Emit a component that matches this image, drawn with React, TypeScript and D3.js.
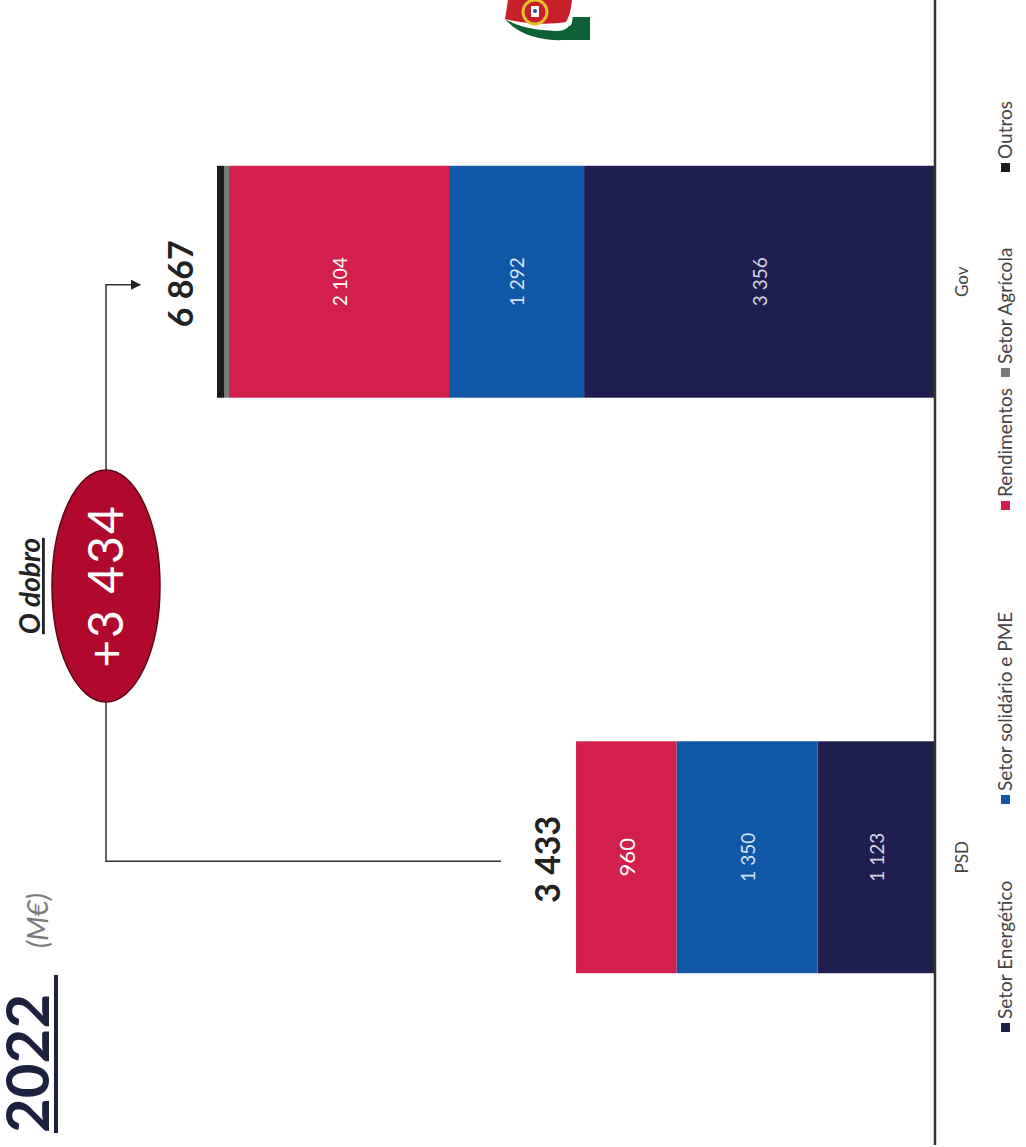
import React from "react";
import * as d3 from "d3";

// ---------- data ----------
const categories = ["PSD", "Gov"];
const seriesNames = ["Setor Energético", "Setor solidário e PME", "Rendimentos", "Setor Agrícola", "Outros"];
const setorEnergetico = [1123, 3356];
const setorSolidario = [1350, 1292];
const rendimentos = [960, 2104];
const setorAgricola = [0, 45];
const outros = [0, 70];
const totals = [3433, 6867];
const totalLabels = ["3 433", "6 867"];
const segmentLabels = [
  ["1 123", "3 356"],
  ["1 350", "1 292"],
  ["960", "2 104"],
];
const differenceLabel = "+3 434";
const differenceTitle = "O dobro";
const yearLabel = "2022";
const unitLabel = "(M€)";

// ---------- styles ----------
const seriesColors = ["#1e1f4f", "#1157a8", "#d31f4b", "#7a7a7a", "#1a1a1a"];
const segmentTextColors = ["#d4d4e2", "#d3e2f4", "#ffffff"];
const FONT = "Lato, 'Open Sans', sans-serif";

// original (unrotated) frame: u across (0..1147), v down (0..1026)
const W = 1147;
const BASE_V = 935;

export default function App() {
  const rows = categories.map((c, i) => ({
    cat: c,
    [seriesNames[0]]: setorEnergetico[i],
    [seriesNames[1]]: setorSolidario[i],
    [seriesNames[2]]: rendimentos[i],
    [seriesNames[3]]: setorAgricola[i],
    [seriesNames[4]]: outros[i],
  }));
  const stacked = d3.stack<any>().keys(seriesNames)(rows);

  const u = d3
    .scaleBand<string>()
    .domain(categories)
    .range([2, 1153])
    .paddingInner(0.597)
    .paddingOuter(0.2985);
  const v = d3.scaleLinear().domain([0, 6867]).range([BASE_V, 217]);
  const bw = u.bandwidth();
  const cx = (c: string) => (u(c) as number) + bw / 2;

  const labelGap = [16, 24];
  const legendU = [115, 343, 637, 770, 975];

  const psdTop = v(totals[0]) - 75;
  const govTop = v(totals[1]) - 77;
  const ell = { cu: 561, cv: 106, rx: 116, ry: 54 };

  const connector1 = d3.path();
  connector1.moveTo(cx(categories[0]) - 4, psdTop);
  connector1.lineTo(cx(categories[0]) - 4, ell.cv);
  connector1.lineTo(ell.cu - ell.rx, ell.cv);
  const connector2 = d3.path();
  connector2.moveTo(ell.cu + ell.rx, ell.cv);
  connector2.lineTo(cx(categories[1]) - 3, ell.cv);
  connector2.lineTo(cx(categories[1]) - 3, govTop);

  return (
    <svg
      width={1026}
      height={1147}
      style={{ position: "absolute", left: 0, top: 0, background: "#fff" }}
    >
      <defs>
        <marker id="arr" viewBox="0 0 10 10" refX="9" refY="5" markerWidth="7" markerHeight="7" orient="auto">
          <path d="M0,0 L10,5 L0,10 Z" fill="#222" />
        </marker>
      </defs>

      {/* logo (flag swoosh) */}
      <g>
        <path d="M508,0 L572,0 C571,10 569,17 566,22 C548,25 525,24 505,19 Z" fill="#c8202b" />
        <path d="M505,19 C520,37 545,41 565,40 L590,40 L590,17 L572,17 C571,27 566,31 556,31 C535,30 518,27 505,19 Z" fill="#0d6136" />
        <path d="M566,22 C569,26 571,28 572,17" stroke="#fff" strokeWidth={1.5} fill="none" />
        <circle cx={535} cy={12} r={12} fill="none" stroke="#e3c12a" strokeWidth={3} />
        <rect x={530} y={5} width={10} height={13} fill="#fff" stroke="#c8202b" strokeWidth={2} />
        <circle cx={535} cy={11} r={2} fill="#1d4fa0" />
      </g>

      <g transform={`translate(0,${W}) rotate(-90)`}>
        {/* bars */}
        {stacked.map((s, si) => (
          <g key={s.key} fill={seriesColors[si]}>
            {s.map((d, i) =>
              d[1] - d[0] > 0 ? (
                <rect
                  key={i}
                  x={u(categories[i])}
                  y={v(d[1])}
                  width={bw}
                  height={v(d[0]) - v(d[1])}
                />
              ) : null
            )}
          </g>
        ))}

        {/* segment labels */}
        {stacked.slice(0, 3).map((s, si) =>
          s.map((d, i) => (
            <text
              key={`${si}-${i}`}
              x={cx(categories[i])}
              y={(v(d[0]) + v(d[1])) / 2}
              textAnchor="middle"
              dominantBaseline="central"
              fontFamily={FONT}
              fontSize={si === 2 && i === 0 ? 22 : 19}
              fill={segmentTextColors[si]}
            >
              {segmentLabels[si][i]}
            </text>
          ))
        )}

        {/* baseline axis */}
        <line x1={2} x2={W} y1={BASE_V} y2={BASE_V} stroke="#333" strokeWidth={2.5} />

        {/* category labels */}
        {categories.map((c) => (
          <text key={c} x={cx(c)} y={968} textAnchor="middle" fontFamily={FONT} fontSize={17} fill="#444">
            {c}
          </text>
        ))}

        {/* totals */}
        {categories.map((c, i) => (
          <text
            key={c}
            x={cx(c) - 2}
            y={v(totals[i]) - labelGap[i]}
            textAnchor="middle"
            fontFamily={FONT}
            fontWeight={700}
            fontSize={34}
            fill="#222"
          >
            {totalLabels[i]}
          </text>
        ))}

        {/* connector */}
        <path d={connector1.toString()} fill="none" stroke="#333" strokeWidth={1.5} />
        <path d={connector2.toString()} fill="none" stroke="#333" strokeWidth={1.5} markerEnd="url(#arr)" />
        <ellipse cx={ell.cu} cy={ell.cv} rx={ell.rx} ry={ell.ry} fill="#b0092b" stroke="#5c0716" strokeWidth={1.5} />
        <text
          x={ell.cu}
          y={ell.cv + 17}
          textAnchor="middle"
          fontFamily={FONT}
          fontSize={48}
          fill="#fff"
          letterSpacing={2}
        >
          {differenceLabel}
        </text>
        <text
          x={ell.cu}
          y={40}
          textAnchor="middle"
          fontFamily={FONT}
          fontWeight={700}
          fontStyle="italic"
          fontSize={28}
          fill="#222"
          textDecoration="underline"
        >
          {differenceTitle}
        </text>

        {/* title */}
        <text x={14} y={49} fontFamily={FONT} fontWeight={700} fontSize={60} fill="#1c2140">
          {yearLabel}
        </text>
        <rect x={14} y={54} width={158} height={4} fill="#1c2140" />
        <text x={199} y={48} fontFamily={FONT} fontStyle="italic" fontSize={28} fill="#7a7a7a">
          {unitLabel}
        </text>

        {/* legend */}
        {seriesNames.map((n, i) => (
          <g key={n}>
            <rect x={legendU[i]} y={1001} width={9} height={9} fill={seriesColors[i]} />
            <text x={legendU[i] + 13} y={1012} fontFamily={FONT} fontSize={19} fill="#444">
              {n}
            </text>
          </g>
        ))}
      </g>
    </svg>
  );
}
